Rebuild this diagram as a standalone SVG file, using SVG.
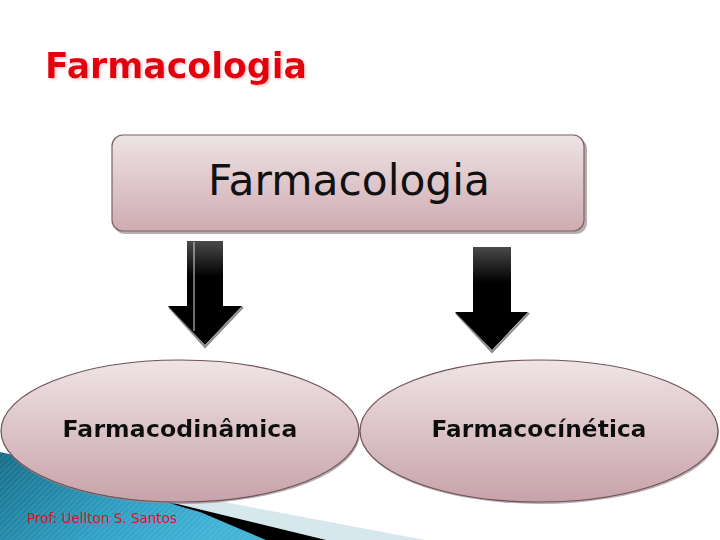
<svg xmlns="http://www.w3.org/2000/svg" width="720" height="540" viewBox="0 0 720 540">
<defs>
<linearGradient id="gBox" x1="0" y1="0" x2="0" y2="1"><stop offset="0" stop-color="#eee3e5"/><stop offset="1" stop-color="#ceabb1"/></linearGradient>
<linearGradient id="gEll" x1="0" y1="0" x2="0" y2="1"><stop offset="0" stop-color="#efe4e6"/><stop offset="1" stop-color="#c7a2a9"/></linearGradient>
<linearGradient id="gArr" x1="0" y1="0" x2="0" y2="1"><stop offset="0" stop-color="#4a4a4a"/><stop offset="0.35" stop-color="#000"/><stop offset="1" stop-color="#000"/></linearGradient>
<linearGradient id="gTeal" x1="0" y1="0" x2="1" y2="0.4"><stop offset="0" stop-color="#146c87"/><stop offset="0.6" stop-color="#2d9dc2"/><stop offset="1" stop-color="#3fb2d6"/></linearGradient>
<pattern id="stripes" width="4" height="4" patternUnits="userSpaceOnUse" patternTransform="rotate(45)"><rect width="2" height="4" fill="#ffffff" opacity="0.08"/></pattern>
<filter id="tsh" x="-5%" y="-20%" width="110%" height="140%"><feDropShadow dx="1" dy="1" stdDeviation="0.6" flood-color="#d9c4c8" flood-opacity="0.9"/></filter>
<filter id="rsh" x="-5%" y="-20%" width="110%" height="140%"><feDropShadow dx="1.5" dy="1.5" stdDeviation="0.8" flood-color="#f2c4c7" flood-opacity="0.9"/></filter>
<style>
.box{fill:url(#gBox);stroke:#7d6166;stroke-width:1.2}
.ell{fill:url(#gEll);stroke:#6e5257;stroke-width:1.2}
.sh{fill:#9a8a8d;opacity:0.7}
.arr{fill:url(#gArr)}
.arrsh{fill:none;stroke:#8a8a8a;stroke-width:2}
.lbl{font-family:"DejaVu Sans","Liberation Sans",sans-serif;fill:#111;text-anchor:middle}
.red{font-family:"DejaVu Sans","Liberation Sans",sans-serif;fill:#e5000f}
</style>
</defs>
<rect width="720" height="540" fill="#fff"/>
<g id="decoration">
<path d="M150,488 L425,540 L150,540 Z" fill="#d7e7ee"/>
<path d="M128,492 L326,540 L128,540 Z" fill="#000"/>
<path d="M0,452 C70,466 140,496 200,512 L266,540 L0,540 Z" fill="url(#gTeal)"/>
<path d="M0,452 C70,466 140,496 200,512 L266,540 L0,540 Z" fill="url(#stripes)"/>
</g>
<g id="title"><text class="red" x="45" y="78" font-size="36" font-weight="bold" textLength="262" lengthAdjust="spacingAndGlyphs" filter="url(#rsh)">Farmacologia</text></g>
<g id="connectors">
<g id="arrow-left">
<path class="arrsh" d="M169,307 L205,347 L243,307"/>
<path class="arr" d="M187,241 L223,241 L223,306 L242,306 L205,345 L168,306 L187,306 Z"/>
<line x1="194" y1="242" x2="194" y2="331" stroke="#d8d8d8" stroke-width="1"/>
</g>
<g id="arrow-right">
<path class="arrsh" d="M456,313 L492,352 L529,313"/>
<path class="arr" d="M473,247 L511,247 L511,312 L528,312 L492,350 L455,312 L473,312 Z"/>
</g>
</g>
<g id="node-farmacologia">
<rect class="sh" x="114" y="138" width="473" height="96" rx="11"/>
<rect class="box" x="112" y="135" width="472" height="96" rx="11"/>
<text class="lbl" x="349" y="195" font-size="43" textLength="282" lengthAdjust="spacingAndGlyphs">Farmacologia</text>
</g>
<g id="node-farmacodinamica">
<ellipse class="sh" cx="181" cy="433" rx="179" ry="71"/>
<ellipse class="ell" cx="180" cy="431" rx="179" ry="71"/>
<text class="lbl" x="180" y="437" font-size="23" font-weight="bold" textLength="235" lengthAdjust="spacingAndGlyphs" filter="url(#tsh)">Farmacodinâmica</text>
</g>
<g id="node-farmacocinetica">
<ellipse class="sh" cx="540" cy="433" rx="179" ry="71"/>
<ellipse class="ell" cx="539" cy="431" rx="179" ry="71"/>
<text class="lbl" x="539" y="437" font-size="23" font-weight="bold" textLength="215" lengthAdjust="spacingAndGlyphs" filter="url(#tsh)">Farmacocínética</text>
</g>
<g id="footer"><text class="red" x="27" y="523" font-size="14" textLength="150" lengthAdjust="spacingAndGlyphs" style="fill:#e0101c">Prof: Uellton S. Santos</text></g>
</svg>
